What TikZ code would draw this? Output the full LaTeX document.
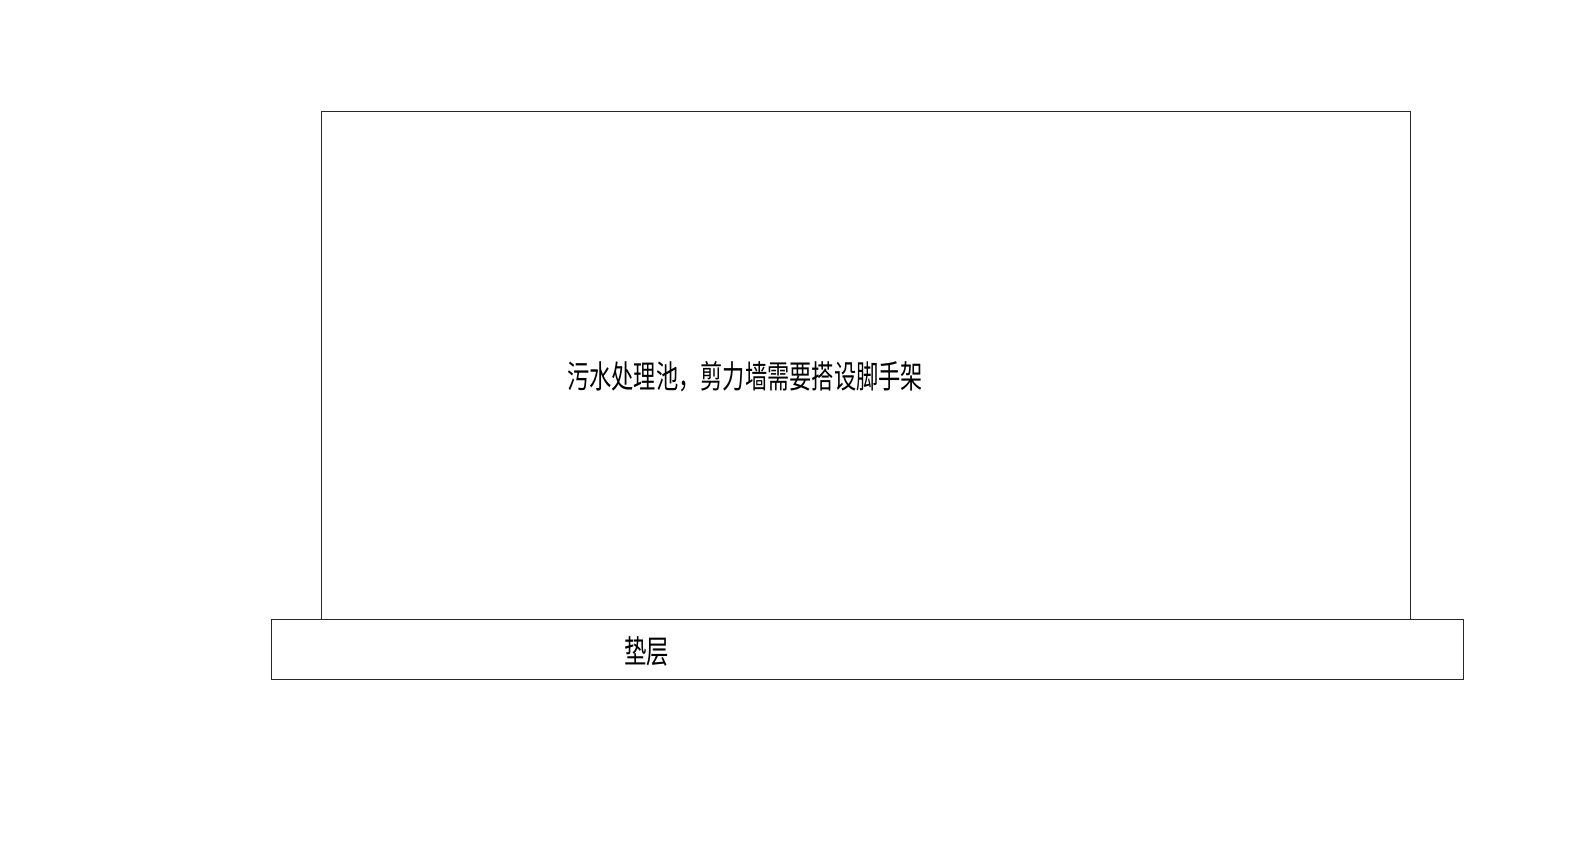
\documentclass[tikz,border=0pt]{standalone}
\usepackage{fontspec}
\newfontfamily\cjk{Noto Sans CJK SC}
\begin{document}
\begin{tikzpicture}[x=0.75pt,y=0.75pt,yscale=-1,xscale=1]
    \useasboundingbox (0,0) rectangle (1596,859);
    % Wall
    \draw [color={rgb, 255:red, 40; green, 40; blue, 40 }][line width=0.75]  (321,111.5) -- (1410,111.5) -- (1410,619) -- (321,619) -- cycle ;
    % Cushion layer
    \draw [color={rgb, 255:red, 40; green, 40; blue, 40 }][line width=0.75]  (271,619) -- (1463,619) -- (1463,679) -- (271,679) -- cycle ;

    % Text Nodes
    \draw (567,377) node [anchor=west][inner sep=0pt][xscale=0.695]  (walltext) {\cjk\fontsize{24}{28}\selectfont 污水处理池，剪力墙需要搭设脚手架};
    \draw (624,651) node [anchor=west][inner sep=0pt][xscale=0.7]  (basetext) {\cjk\fontsize{24}{28}\selectfont 垫层};
\end{tikzpicture}
\end{document}
